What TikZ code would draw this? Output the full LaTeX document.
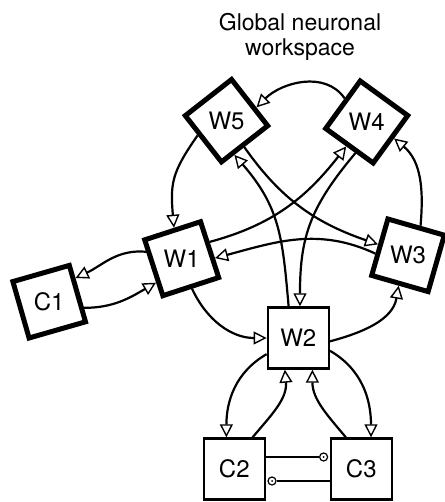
\documentclass[tikz,border=0pt]{standalone}
\usepackage{fontspec}
\setmainfont{TeX Gyre Heros}
\usepackage{tikz}
\usetikzlibrary{arrows.meta,shapes.geometric,calc}
\tikzstyle{hub} = [draw=black, line width=5pt, regular polygon, regular polygon sides=4, minimum size=83pt, inner sep=0pt, font=\fontsize{24}{25}\selectfont]
\tikzstyle{proc} = [draw=black, line width=2.4pt, rectangle, minimum size=61pt, inner sep=0pt, font=\fontsize{24}{25}\selectfont]
\tikzstyle{heading} = [align=center, inner sep=0pt, font=\fontsize{23}{25}\selectfont]
\tikzstyle{link} = [line width=2.2pt, -{Triangle[fill=white, line width=1.4pt, length=13pt, width=13pt]}]
\tikzstyle{wire} = [line width=1.7pt]
\tikzstyle{knob} = [circle, draw=black, line width=1.2pt, minimum size=8pt, inner sep=0pt, path picture={\fill (path picture bounding box.center) circle (1pt);}]

\begin{document}
\begin{tikzpicture}[x=1pt,y=1pt]
\useasboundingbox (0,0) rectangle (444,-502);
\node[heading] (gnw) at (300,-36.6) {Global neuronal\\workspace};

% workspace units
\node[hub, shape border rotate=38] (w5) at (226.5,-120.7) {W5};
\node[hub, shape border rotate=-36] (w4) at (366.7,-122) {W4};
\node[hub, shape border rotate=18] (w1) at (181.7,-258.7) {W1};
\node[hub, shape border rotate=-16] (w3) at (408,-255.3) {W3};
\node[hub, shape border rotate=16] (c1) at (49.2,-301.7) {C1};
\node[proc] (w2) at (298.3,-338) {W2};
\node[proc] (c2) at (234.3,-469) {C2};
\node[proc] (c3) at (361.3,-469) {C3};

% long range links
\draw[link] (w4.133) to[out=125, in=45] (w5.24);
\draw[link] (w5.207) to[out=235, in=95, looseness=1.2] (w1.104);
\draw[link] (w1.169) to[out=175, in=25] (c1.42);
\draw[link] (c1.-10) to[out=0, in=210] (w1.223);
\draw[link] (w1.-71) to[out=-65, in=180] (w2.west);
\draw[link] (w2.-6) to[out=15, in=260] (w3.253);
\draw[link] (w3.67) to[out=85, in=-40] (w4.-31);
\draw[link] (w1.31) to[out=15, in=232] (w4.230);
\draw[link] (w3.177) to[out=155, in=15] (w1.1);
\draw[link] (w5.-56) to[out=-55, in=161] (w3.160);
\draw[link] (w2.107) to[out=95, in=-49, looseness=1.1] (w5.-77);
\draw[link] (w4.250) to[out=230, in=90, looseness=1.1] (w2.87);

% local loops
\draw[link] (w2.207) to[out=210, in=90] (c2.104);
\draw[link] (c2.60) to[out=50, in=-85] (w2.247);
\draw[link] (c3.116) to[out=130, in=-90] (w2.294);
\draw[link] (w2.-22) to[out=-30, in=90] (c3.73);

\node[knob] (k1) at ($(c3.west)+(-6,12)$) {};
\node[knob] (k2) at ($(c2.east)+(6,-12)$) {};
\draw[wire] (c2.east |- k1) -- (k1);
\draw[wire] (c3.west |- k2) -- (k2);
\end{tikzpicture}
\end{document}
